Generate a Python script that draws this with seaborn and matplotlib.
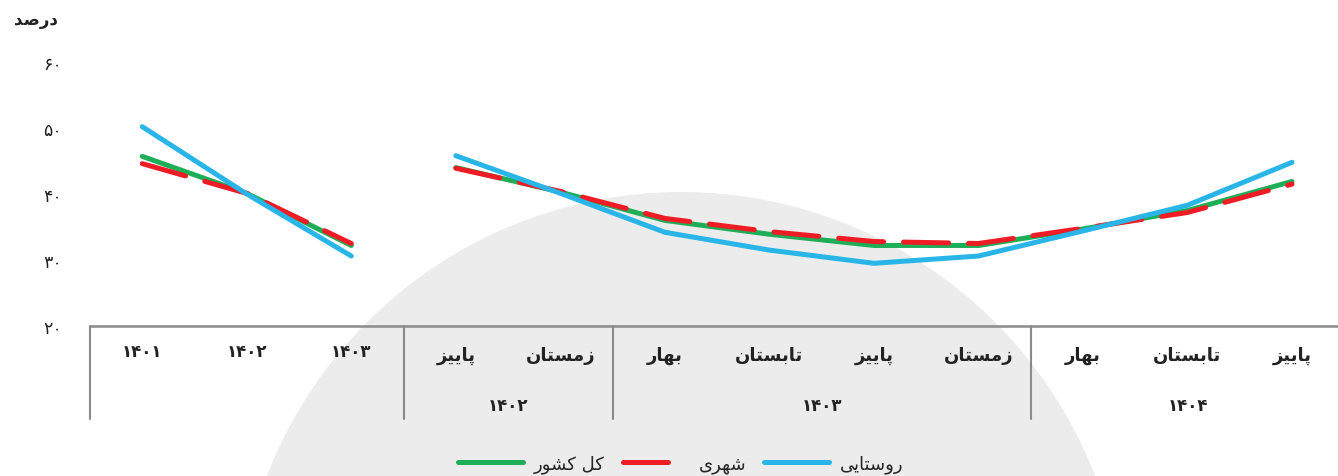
import pandas as pd
import seaborn as sns
import matplotlib.pyplot as plt
from matplotlib.lines import Line2D
from matplotlib.patches import Ellipse
from matplotlib.transforms import blended_transform_factory

sns.set_style("white")
plt.rcParams['font.family'] = ['DejaVu Sans']

# x categories: three annual values, then seasons
annual_labels = ['۱۴۰۱', '۱۴۰۲', '۱۴۰۳']
season_labels = ['پاییز', 'زمستان', 'بهار', 'تابستان', 'پاییز', 'زمستان', 'بهار', 'تابستان', 'پاییز']
year_groups = ['۱۴۰۲', '۱۴۰۳', '۱۴۰۴']
year_group_sizes = [2, 4, 3]

series_names = ['کل کشور', 'شهری', 'روستایی']
total = [45.7, 40.1, 32.2, 44.0, 40.3, 36.0, 33.9, 32.2, 32.2, 34.7, 37.5, 41.9]
urban = [44.6, 40.1, 32.5, 43.9, 40.4, 36.3, 34.3, 32.8, 32.5, 34.8, 37.2, 41.5]
rural = [50.2, 40.0, 30.6, 45.8, 40.1, 34.2, 31.5, 29.5, 30.6, 34.4, 38.3, 44.8]

y_ticks = [20, 30, 40, 50, 60]
y_tick_labels = ['۲۰', '۳۰', '۴۰', '۵۰', '۶۰']
y_title = 'درصد'

colors = ['#1fae58', '#ee1c25', '#29b5e8']
red_dash = (0, (9, 4))

# minimal persian shaping (no arabic_reshaper available)
FORMS = {
    'ا': ('\uFE8D', '\uFE8E', None, None),
    'ب': ('\uFE8F', '\uFE90', '\uFE91', '\uFE92'),
    'پ': ('\uFB56', '\uFB57', '\uFB58', '\uFB59'),
    'ت': ('\uFE95', '\uFE96', '\uFE97', '\uFE98'),
    'د': ('\uFEA9', '\uFEAA', None, None),
    'ر': ('\uFEAD', '\uFEAE', None, None),
    'ز': ('\uFEAF', '\uFEB0', None, None),
    'س': ('\uFEB1', '\uFEB2', '\uFEB3', '\uFEB4'),
    'ش': ('\uFEB5', '\uFEB6', '\uFEB7', '\uFEB8'),
    'ص': ('\uFEB9', '\uFEBA', '\uFEBB', '\uFEBC'),
    'ک': ('\uFB8E', '\uFB8F', '\uFB90', '\uFB91'),
    'ل': ('\uFEDD', '\uFEDE', '\uFEDF', '\uFEE0'),
    'م': ('\uFEE1', '\uFEE2', '\uFEE3', '\uFEE4'),
    'ن': ('\uFEE5', '\uFEE6', '\uFEE7', '\uFEE8'),
    'ه': ('\uFEE9', '\uFEEA', '\uFEEB', '\uFEEC'),
    'و': ('\uFEED', '\uFEEE', None, None),
    'ی': ('\uFBFC', '\uFBFD', '\uFBFE', '\uFBFF'),
}


def fa(s):
    out = []
    for i, c in enumerate(s):
        if c not in FORMS:
            out.append(c)
            continue
        prev = s[i - 1] if i > 0 else ''
        nxt = s[i + 1] if i + 1 < len(s) else ''
        jp = prev in FORMS and FORMS[prev][2] is not None
        jn = nxt in FORMS and FORMS[c][2] is not None
        iso, fin, ini, med = FORMS[c]
        if jp and jn:
            out.append(med)
        elif jp:
            out.append(fin)
        elif jn:
            out.append(ini)
        else:
            out.append(iso)
    return ''.join(reversed(out))


rows = []
for name, vals in zip(series_names, [total, urban, rural]):
    for i, v in enumerate(vals):
        rows.append({'pos': i, 'value': v, 'series': name, 'segment': 0 if i < 3 else 1})
df = pd.DataFrame(rows)

fig = plt.figure(figsize=(13.38, 4.77), dpi=100)
ax = fig.add_axes([90 / 1338, 1 - 327 / 477, (1338 - 90) / 1338, (327 - 63) / 477])
ax.patch.set_alpha(0)

# big grey watermark circle
fig.add_artist(Ellipse((681 / 1338, 1 - 637 / 477), 888 / 1338, 888 / 477,
                       transform=fig.transFigure, color='#ececec', zorder=-1, lw=0))

for name, col in zip(series_names, colors):
    sub = df[df['series'] == name]
    for seg, part in sub.groupby('segment'):
        sns.lineplot(data=part, x='pos', y='value', ax=ax, color=col, lw=3.6,
                     legend=False, estimator=None, sort=False,
                     solid_capstyle='round', dash_capstyle='round',
                     linestyle=red_dash if name == 'شهری' else '-')

ax.set_xlim(-0.5, 11.44)
ax.set_ylim(20, 60)
ax.set_yticks(y_ticks)
ax.set_yticklabels(y_tick_labels, fontsize=12.5, color='#222')
ax.tick_params(axis='y', length=0, pad=20)
ax.set_xticks([])
ax.set_xlabel('')
ax.set_ylabel('')
for s in ['top', 'right', 'left']:
    ax.spines[s].set_visible(False)
ax.spines['bottom'].set_color('#8a8a8a')
ax.spines['bottom'].set_linewidth(1.8)

trans = blended_transform_factory(ax.transData, ax.transAxes)
# category labels
for i, lab in enumerate(annual_labels):
    ax.text(i, -0.095, lab, transform=trans, ha='center', va='center',
            fontsize=12, fontweight='bold', color='#222')
for i, lab in enumerate(season_labels):
    ax.text(i + 3, -0.11, fa(lab), transform=trans, ha='center', va='center',
            fontsize=13, fontweight='bold', color='#222')

# group separators and year labels
bounds = [-0.5, 2.5]
start = 3
for yr, size in zip(year_groups, year_group_sizes):
    ax.text(start + (size - 1) / 2, -0.30, yr, transform=trans, ha='center', va='center',
            fontsize=12, fontweight='bold', color='#222')
    start += size
    bounds.append(start - 0.5)
for b in bounds[:-1]:
    ax.plot([b, b], [0, -0.352], transform=trans, color='#8a8a8a', lw=1.5, clip_on=False)

fig.text(58 / 1338, 1 - 20 / 477, fa(y_title), ha='right', va='center',
         fontsize=12, fontweight='bold', color='#222')

handles = [Line2D([], [], color=colors[0], lw=3.6, solid_capstyle='round'),
           Line2D([], [], color=colors[1], lw=3.6, ls=red_dash, dash_capstyle='round'),
           Line2D([], [], color=colors[2], lw=3.6, solid_capstyle='round')]
fig.legend(handles, [fa(s) for s in series_names], loc='center', ncol=3,
           bbox_to_anchor=(681 / 1338, 1 - 465 / 477), frameon=False, fontsize=13,
           handlelength=3.6, handletextpad=0.6, columnspacing=1.0)

fig.savefig('out.png', dpi=100)
